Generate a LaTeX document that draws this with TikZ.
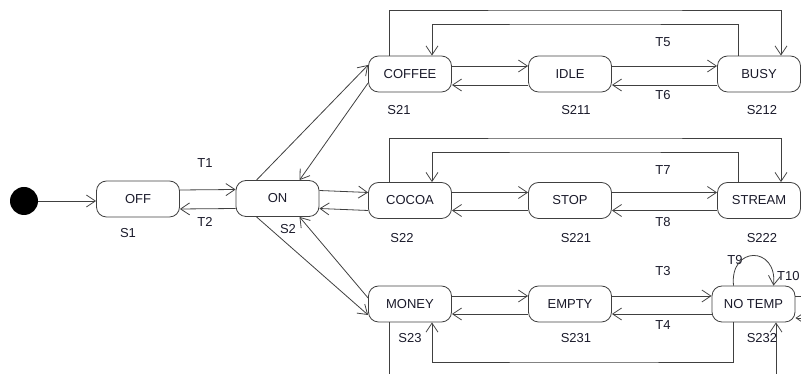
\documentclass[tikz,border=0pt]{standalone}
\usepackage{fontspec}
\setmainfont{Liberation Sans}
\usetikzlibrary{arrows.meta}

\definecolor{lineclr}{HTML}{404040}
\definecolor{textclr}{HTML}{1A1A2A}

\tikzset{
  state/.style={draw=lineclr, line width=0.8pt, rounded corners=10pt,
    minimum width=83pt, minimum height=36pt, inner sep=0pt,
    font=\fontsize{13}{15}\selectfont, text=textclr},
  tag/.style={font=\fontsize{13}{15}\selectfont, text=textclr, inner sep=0pt},
  edge/.style={draw=lineclr, line width=0.8pt, -{Straight Barb[length=9pt,width=12pt]}},
  wire/.style={draw=lineclr, line width=0.8pt}
}

\begin{document}
\begin{tikzpicture}[x=1pt, y=1pt]
  \clip (0,0) rectangle (801,374);
  \useasboundingbox (0,0) rectangle (801,374);

  % start and main states
  \node[circle, fill=black, minimum size=28pt, inner sep=0pt] (start) at (24,173) {};
  \node[state] (off) at (138,175) {OFF};
  \node[state] (on) at (277.5,175.5) {ON};

  % coffee row
  \node[state] (coffee) at (410,300) {COFFEE};
  \node[state] (idle) at (570,300) {IDLE};
  \node[state] (busy) at (759,300) {BUSY};

  % cocoa row
  \node[state] (cocoa) at (410,173.5) {COCOA};
  \node[state] (stop) at (570,173.5) {STOP};
  \node[state] (stream) at (759,173.5) {STREAM};

  % money row
  \node[state] (money) at (410,70) {MONEY};
  \node[state] (empty) at (570,70) {EMPTY};
  \node[state] (notemp) at (753.5,70) {NO TEMP};

  % state names and transitions
  \node[tag] (s1) at (128,141) {S1};
  \node[tag] (s2) at (288,145) {S2};
  \node[tag] (t1) at (205,211) {T1};
  \node[tag] (t2) at (205,152) {T2};
  \node[tag] (s21) at (399,264) {S21};
  \node[tag] (s211) at (576,264) {S211};
  \node[tag] (s212) at (762,264) {S212};
  \node[tag] (t5) at (663,332) {T5};
  \node[tag] (t6) at (663,279) {T6};
  \node[tag] (s22) at (402,136) {S22};
  \node[tag] (s221) at (576,136) {S221};
  \node[tag] (s222) at (762,136) {S222};
  \node[tag] (t7) at (663,204) {T7};
  \node[tag] (t8) at (663,152) {T8};
  \node[tag] (t3) at (663,103) {T3};
  \node[tag] (t4) at (663,49) {T4};
  \node[tag] (s23) at (410,36) {S23};
  \node[tag] (s231) at (576,36) {S231};
  \node[tag] (s232) at (762,36) {S232};
  \node[tag] (t9) at (735,114) {T9};
  \node[tag, anchor=west] (t10) at (777,98) {T10};

  % routing points
  \coordinate (topA) at (585,364);
  \coordinate (topB) at (585,350);
  \coordinate (midA) at (585,236);
  \coordinate (midB) at (585,222);
  \coordinate (lowA) at (585,12);
  \coordinate (lowB) at (585,-20);
  \coordinate (outA) at (820,78);
  \coordinate (outB) at (820,56);

  % off / on
  \draw[edge] (start) -- (off.west |- start);
  \draw[edge] ([yshift=9pt]off.east) -- ([yshift=9pt]on.west);
  \draw[edge] ([yshift=-10pt]on.west) -- ([yshift=-10pt]off.east);

  % on to the sub states
  \draw[edge] ([xshift=-21pt]on.north) -- ([yshift=9pt]coffee.west);
  \draw[edge] ([yshift=-9pt]coffee.west) -- ([xshift=22pt]on.north);
  \draw[edge] ([yshift=8pt]on.east) -- ([yshift=8pt]cocoa.west);
  \draw[edge] ([yshift=-10pt]cocoa.west) -- ([yshift=-10pt]on.east);
  \draw[edge] ([xshift=-21pt]on.south) -- ([yshift=-11pt]money.west);
  \draw[edge] ([yshift=6pt]money.west) -- ([xshift=22pt]on.south);

  % coffee row
  \draw[edge] ([yshift=8pt]coffee.east) -- ([yshift=8pt]idle.west);
  \draw[edge] ([yshift=-11pt]idle.west) -- ([yshift=-11pt]coffee.east);
  \draw[edge] ([yshift=8pt]idle.east) -- ([yshift=8pt]busy.west);
  \draw[edge] ([yshift=-11pt]busy.west) -- ([yshift=-11pt]idle.east);
  \draw[edge] ([xshift=-21pt]coffee.north) |- (topA) -| ([xshift=22pt]busy.north);
  \draw[edge] ([xshift=-21pt]busy.north) |- (topB) -| ([xshift=22pt]coffee.north);

  % cocoa row
  \draw[edge] ([yshift=8pt]cocoa.east) -- ([yshift=8pt]stop.west);
  \draw[edge] ([yshift=-10pt]stop.west) -- ([yshift=-10pt]cocoa.east);
  \draw[edge] ([yshift=8pt]stop.east) -- ([yshift=8pt]stream.west);
  \draw[edge] ([yshift=-10pt]stream.west) -- ([yshift=-10pt]stop.east);
  \draw[edge] ([xshift=-21pt]cocoa.north) |- (midA) -| ([xshift=22pt]stream.north);
  \draw[edge] ([xshift=-21pt]stream.north) |- (midB) -| ([xshift=22pt]cocoa.north);

  % money row
  \draw[edge] ([yshift=8pt]money.east) -- ([yshift=8pt]empty.west);
  \draw[edge] ([yshift=-10pt]empty.west) -- ([yshift=-10pt]money.east);
  \draw[edge] ([yshift=8pt]empty.east) -- ([yshift=8pt]notemp.west);
  \draw[edge] ([yshift=-10pt]notemp.west) -- ([yshift=-10pt]empty.east);
  \draw[edge] ([xshift=-20.5pt]notemp.south) |- (lowA) -| ([xshift=22pt]money.south);
  \draw[edge] ([xshift=-21pt]money.south) |- (lowB) -| ([xshift=22.5pt]notemp.south);
  \draw[edge] ([xshift=-20pt]notemp.north) .. controls +(-4,40) and +(4,40) .. ([xshift=20pt]notemp.north);
  \draw[wire] ([yshift=8pt]notemp.east) -- (notemp.east |- outA) -- (outA);
  \draw[edge] (outB) -- ([yshift=-14pt]notemp.east);
\end{tikzpicture}
\end{document}
